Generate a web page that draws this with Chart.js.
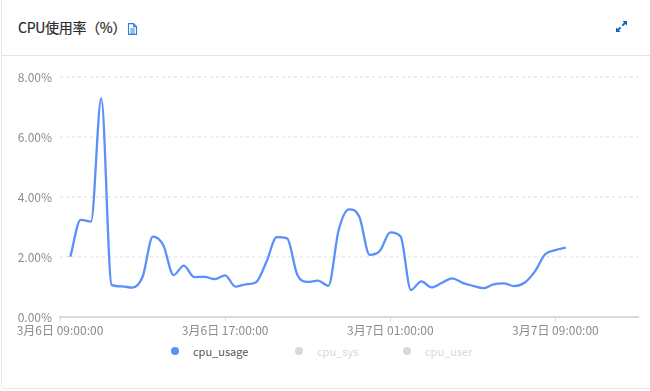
<!DOCTYPE html>
<html>
<head>
<meta charset="utf-8">
<script src="https://cdn.jsdelivr.net/npm/chart.js@4"></script>
<style>
    html, body { margin: 0; padding: 0; width: 650px; height: 391px; overflow: hidden; background: #fff; }
    body { font-family: "Noto Sans CJK SC", "Noto Sans", sans-serif; position: relative; }
    #card { position: absolute; left: 1px; top: -6px; width: 660px; height: 395px; border: 1px solid #e8e8e8; border-radius: 4px; box-sizing: border-box; }
    #head-line { position: absolute; left: 2px; top: 55px; width: 648px; height: 1px; background: #e4e4e4; }
    #title { position: absolute; left: 18px; top: 17px; font-size: 14px; line-height: 20px; color: #2b2b2b; white-space: nowrap; letter-spacing: -0.3px; -webkit-text-stroke: 0.2px #2b2b2b; }
    #doc-icon { position: absolute; left: 127px; top: 23px; }
    #expand-icon { position: absolute; left: 615px; top: 20px; }
    #chart-box { position: absolute; left: 0; top: 56px; width: 650px; height: 285px; }
    #legend { position: absolute; left: 0; top: 342px; width: 650px; height: 18px; font-size: 11px; line-height: 18px; }
    #legend span { position: absolute; white-space: nowrap; }
    #legend i { position: absolute; top: 5px; width: 8px; height: 8px; border-radius: 50%; }
</style>
</head>
<body>
<div id="card"></div>
<div id="head-line"></div>
<div id="title">CPU使用率（%）</div>
<svg id="doc-icon" width="11" height="12" viewBox="0 0 11 12" fill="none" stroke="#2f7fd6" stroke-width="1.1">
    <path d="M1.5 .6h5l3 3v7.8h-8z"/><path d="M6.5 .6v3h3"/><path d="M3.2 6h4.6M3.2 8h4.6M3.2 10h4.6"/>
</svg>
<svg id="expand-icon" width="13" height="13" viewBox="0 0 13 13" fill="#0f62c4" stroke="none">
    <path d="M12 1v4.5l-1.6-1.6-2.4 2.4-1.3-1.3 2.4-2.4L7.5 1z"/>
    <path d="M1 12V7.5l1.6 1.6 2.4-2.4 1.3 1.3-2.4 2.4L5.5 12z"/>
</svg>
<div id="chart-box"><canvas id="cpu-chart"></canvas></div>
<div id="legend"></div>
<script>
    /* hours since 3月6日 09:00, one sample every half hour */
    var hours = [
        0.5, 1, 1.5, 2, 2.5, 3, 3.5, 4, 4.5, 5, 5.5, 6, 6.5, 7, 7.5, 8, 8.5,
        9, 9.5, 10, 10.5, 11, 11.5, 12, 12.5, 13, 13.5, 14, 14.5, 15, 15.5, 16, 16.5,
        17, 17.5, 18, 18.5, 19, 19.5, 20, 20.5, 21, 21.5, 22, 22.5, 23, 23.5, 24, 24.5
    ];
    var cpuUsage = [
        2.01, 3.24, 3.18, 7.29, 1.07, 1.02, 0.98, 1.34, 2.68, 2.40, 1.40, 1.71, 1.33, 1.34, 1.26, 1.39, 1.01,
        1.09, 1.16, 1.84, 2.66, 2.62, 1.40, 1.17, 1.21, 1.04, 2.90, 3.59, 3.34, 2.07, 2.21, 2.82, 2.68,
        0.90, 1.19, 0.99, 1.14, 1.29, 1.14, 1.04, 0.96, 1.09, 1.12, 1.03, 1.14, 1.51, 2.09, 2.23, 2.31
    ];
    var seriesNames = ["cpu_usage", "cpu_sys", "cpu_user"];
    var legendX = [171, 295, 403];
    var xTickLabels = { 0: "3月6日 09:00:00", 8: "3月6日 17:00:00", 16: "3月7日 01:00:00", 24: "3月7日 09:00:00" };

    var usagePoints = hours.map(function (h, i) { return { x: h, y: cpuUsage[i] }; });

    var chart = new Chart(document.getElementById("cpu-chart"), {
        type: "line",
        data: {
            datasets: [
                { label: seriesNames[0], data: usagePoints, borderColor: "#5b8ff9", backgroundColor: "#5b8ff9", borderWidth: 2.3, pointRadius: 0, cubicInterpolationMode: "monotone" },
                { label: seriesNames[1], data: [], hidden: true },
                { label: seriesNames[2], data: [], hidden: true }
            ]
        },
        options: {
            responsive: true,
            maintainAspectRatio: false,
            animation: false,
            layout: { padding: { top: 21, right: 12, left: 0, bottom: 0 } },
            plugins: { legend: { display: false }, tooltip: { enabled: false } },
            scales: {
                x: {
                    type: "linear",
                    min: 0,
                    max: 28,
                    afterFit: function (s) { s.height = 24; },
                    border: { color: "#d9d9d9", width: 2 },
                    grid: { drawOnChartArea: false, drawTicks: true, tickLength: 4, color: "#d9d9d9" },
                    ticks: {
                        stepSize: 8,
                        includeBounds: false,
                        autoSkip: false,
                        maxRotation: 0,
                        padding: 2,
                        color: "#8c8c8c",
                        font: { family: '"Noto Sans CJK SC", sans-serif', size: 12 },
                        callback: function (v) { return xTickLabels[v] || ""; }
                    }
                },
                y: {
                    min: 0,
                    max: 8,
                    afterFit: function (s) { s.width = 60; },
                    border: { display: false, dash: [3, 3] },
                    grid: { color: "#eeeeee", lineWidth: 2, drawTicks: false },
                    ticks: {
                        stepSize: 2,
                        padding: 8,
                        color: "#8c8c8c",
                        font: { family: '"Noto Sans CJK SC", sans-serif', size: 12 },
                        callback: function (v) { return v.toFixed(2) + "%"; }
                    }
                }
            }
        }
    });

    /* Legend, built from the chart's datasets */
    var legendEl = document.getElementById("legend");
    chart.data.datasets.forEach(function (ds, i) {
        var dot = document.createElement("i");
        dot.style.left = legendX[i] + "px";
        dot.style.background = ds.hidden ? "#d9d9d9" : ds.borderColor;
        var txt = document.createElement("span");
        txt.textContent = ds.label;
        txt.style.left = (legendX[i] + 22) + "px";
        txt.style.color = ds.hidden ? "#d9d9d9" : "#595959";
        legendEl.appendChild(dot);
        legendEl.appendChild(txt);
    });
</script>
</body>
</html>
